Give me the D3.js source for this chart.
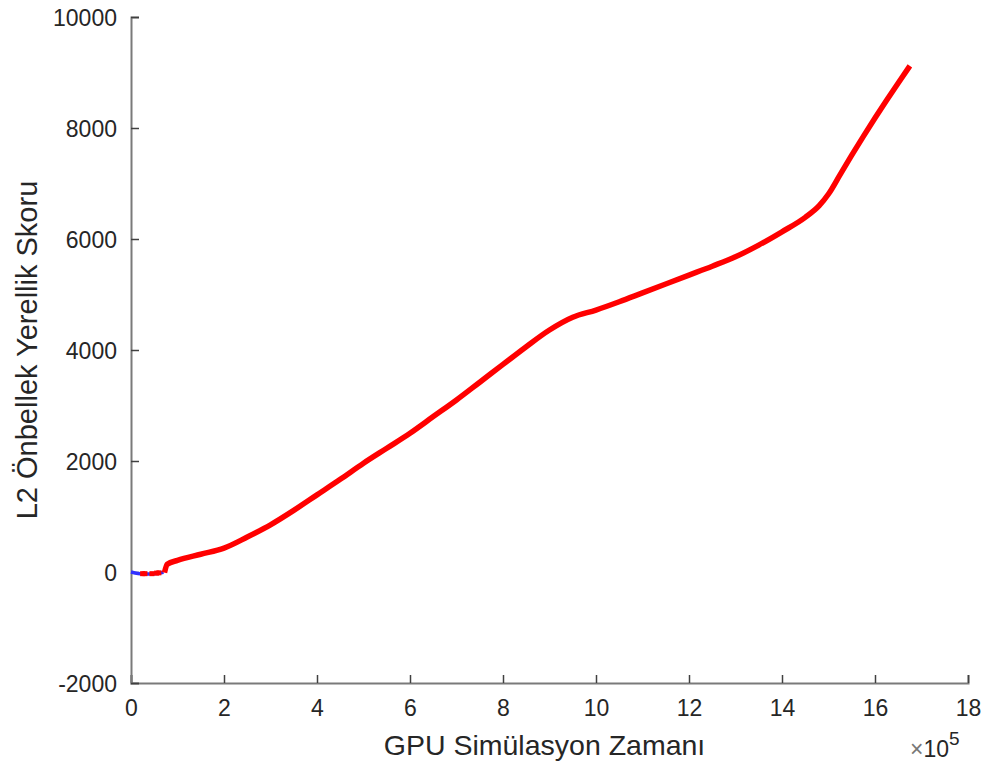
<!DOCTYPE html>
<html>
<head>
<meta charset="utf-8">
<script src="https://cdn.jsdelivr.net/npm/d3@7"></script>
<style>
  html, body { margin: 0; padding: 0; background: #fff; }
  svg { display: block; font-family: "Liberation Sans", Arial, Helvetica, sans-serif; }
</style>
</head>
<body>
<svg id="chart" width="996" height="767"></svg>
<script>
// Simulation time (x 1e5) and L2 cache locality score
const xTicks = [0, 2, 4, 6, 8, 10, 12, 14, 16, 18];
const yTicks = [-2000, 0, 2000, 4000, 6000, 8000, 10000];

// Early warm-up samples (blue)
const warmX = [0, 0.15, 0.35, 0.55, 0.7];
const warmY = [0, -25, -35, -25, -5];

// Red samples over the warm-up region
const warmRedX = [0.25, 0.3, 0.45, 0.55, 0.6];
const warmRedY = [-30, -30, -30, -20, -15];

// Main score trace (red)
const scoreX = [0.72, 0.78, 1.0, 1.5, 2.0, 2.5, 3.0, 3.5, 4.0, 4.5, 5.0, 5.5, 6.0, 6.5,
  7.0, 7.5, 8.0, 8.5, 9.0, 9.5, 10.0, 10.5, 11.0, 11.5, 12.0, 12.5, 13.0, 13.5, 14.0,
  14.5, 14.8, 15.0, 15.25, 15.5, 15.75, 16.0, 16.25, 16.5, 16.75];
const scoreY = [-10, 140, 210, 320, 430, 630, 850, 1110, 1390, 1670, 1960, 2230, 2500, 2800,
  3100, 3420, 3740, 4060, 4360, 4590, 4720, 4870, 5030, 5190, 5350, 5510, 5680, 5890, 6130,
  6390, 6600, 6810, 7160, 7510, 7850, 8180, 8500, 8810, 9120];

const svg = d3.select("#chart");
const plotLeft = 131, plotRight = 968, plotTop = 17, plotBottom = 683;

const x = d3.scaleLinear().domain([0, 18]).range([plotLeft, plotRight]);
const y = d3.scaleLinear().domain([-2000, 10000]).range([plotBottom, plotTop]);

const axisColor = "#7a7a7a";
const textColor = "#262626";
const plainNumber = d => String(d);

// Axes (inward ticks, no box)
const xAxis = svg.append("g")
  .attr("transform", `translate(0,${plotBottom})`)
  .call(d3.axisBottom(x).tickValues(xTicks).tickSize(-8).tickPadding(33).tickFormat(plainNumber));
const yAxis = svg.append("g")
  .attr("transform", `translate(${plotLeft},0)`)
  .call(d3.axisLeft(y).tickValues(yTicks).tickSize(-8).tickPadding(14).tickFormat(plainNumber));

[xAxis, yAxis].forEach(g => {
  g.select(".domain").attr("stroke", axisColor).attr("stroke-width", 2);
  g.selectAll(".tick line").attr("stroke", "#404040").attr("stroke-width", 1.5);
  g.selectAll(".tick text").attr("fill", textColor).style("font-size", "23px");
});
yAxis.selectAll(".tick text").attr("dy", "0.35em");
xAxis.selectAll(".tick text").attr("dy", "0");

const line = d3.line().x(d => x(d[0])).y(d => y(d[1])).curve(d3.curveMonotoneX);

// Warm-up segment
svg.append("path")
  .datum(d3.zip(warmX, warmY))
  .attr("d", line)
  .attr("fill", "none")
  .attr("stroke", "#3030ff")
  .attr("stroke-width", 3.5);

svg.append("g").selectAll("rect")
  .data(d3.zip(warmRedX, warmRedY))
  .join("rect")
  .attr("x", d => x(d[0]) - 2.5)
  .attr("y", d => y(d[1]) - 2.5)
  .attr("width", 5).attr("height", 5)
  .attr("fill", "#ff0000");

// Main trace
svg.append("path")
  .datum(d3.zip(scoreX, scoreY))
  .attr("d", line)
  .attr("fill", "none")
  .attr("stroke", "#ff0000")
  .attr("stroke-width", 5.5)
  .attr("stroke-linejoin", "round");

// Axis labels
svg.append("text")
  .attr("x", (plotLeft + plotRight) / 2 - 5)
  .attr("y", 755)
  .attr("text-anchor", "middle")
  .attr("fill", textColor)
  .style("font-size", "28.5px")
  .text("GPU Simülasyon Zamanı");

svg.append("text")
  .attr("transform", `translate(37,${(plotTop + plotBottom) / 2}) rotate(-90)`)
  .attr("text-anchor", "middle")
  .attr("fill", textColor)
  .style("font-size", "29px")
  .text("L2 Önbellek Yerellik Skoru");

// Exponent label
const expo = svg.append("text")
  .attr("x", 910)
  .attr("y", 757)
  .attr("fill", textColor)
  .style("font-size", "23px");
expo.append("tspan").attr("fill", "#777").text("×");
expo.append("tspan").text("10");
expo.append("tspan").attr("dy", -12).style("font-size", "19px").text("5");
</script>
</body>
</html>
